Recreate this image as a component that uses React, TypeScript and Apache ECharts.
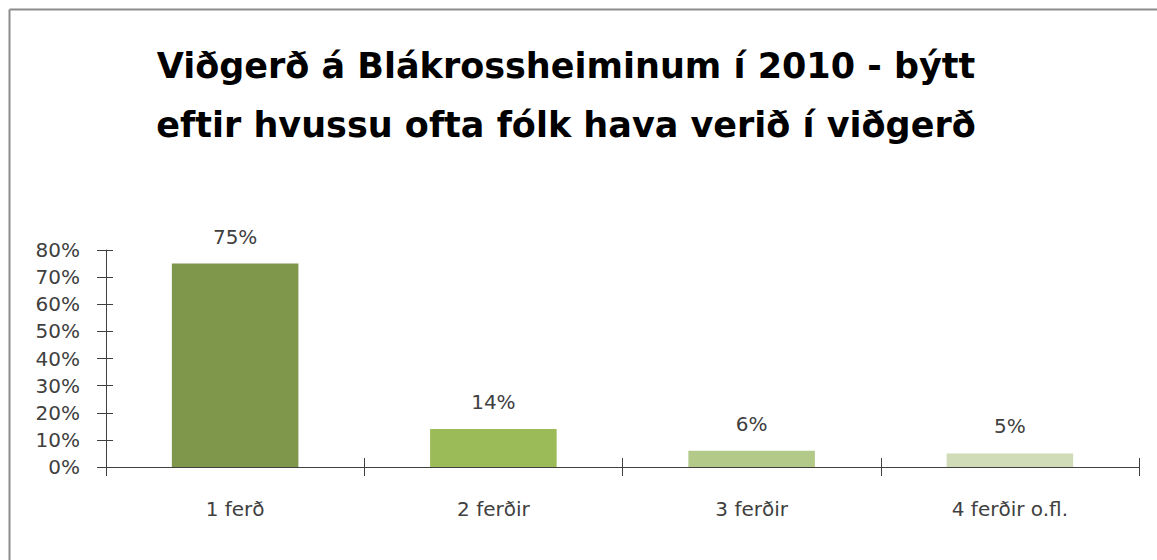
import React, { useEffect, useRef } from "react";
import * as echarts from "echarts";

const categories = ["1 ferð", "2 ferðir", "3 ferðir", "4 ferðir o.fl."];
const values = [75, 14, 6, 5];
const barColors = ["#7F974A", "#9BBB59", "#B3C98A", "#CFDCB7"];
const titleLines = ["Viðgerð á Blákrossheiminum í 2010 - býtt", "eftir hvussu ofta fólk hava verið í viðgerð"];

export default function App() {
  const ref = useRef<HTMLDivElement>(null);
  useEffect(() => {
    const chart = echarts.init(ref.current!, null, { renderer: "svg" });
    const font = "'DejaVu Sans', sans-serif";
    const yCommon = {
      type: "value" as const,
      min: 0,
      max: 80,
      interval: 10,
      splitLine: { show: false },
    };
    chart.setOption({
      animation: false,
      backgroundColor: "#ffffff",
      title: {
        text: titleLines.join("\n"),
        left: 561,
        top: 31,
        textAlign: "center",
        textStyle: {
          fontFamily: font,
          fontWeight: "bold",
          fontSize: 35,
          lineHeight: 59,
          color: "#000000",
        },
      },
      graphic: [
        { type: "line", shape: { x1: 9.5, y1: 9.5, x2: 1157, y2: 9.5 }, style: { stroke: "#8c8c8c", lineWidth: 2 } },
        { type: "line", shape: { x1: 9.5, y1: 9.5, x2: 9.5, y2: 560 }, style: { stroke: "#8c8c8c", lineWidth: 2 } },
      ],
      grid: { left: 106, right: 18, top: 250, bottom: 93, containLabel: false },
      xAxis: [
        {
          type: "category",
          data: categories,
          axisLine: { lineStyle: { color: "#404040", width: 1 } },
          axisTick: { show: true, length: 9, lineStyle: { color: "#404040" } },
          axisLabel: { fontFamily: font, fontSize: 20, color: "#404040", margin: 32 },
        },
        {
          type: "category",
          data: categories,
          position: "bottom",
          axisLine: { show: false },
          axisTick: { show: true, inside: true, length: 9, lineStyle: { color: "#404040" } },
          axisLabel: { show: false },
        },
      ],
      yAxis: [
        {
          ...yCommon,
          axisLine: { show: true, lineStyle: { color: "#404040" } },
          axisTick: { show: true, length: 9, lineStyle: { color: "#404040" } },
          axisLabel: {
            fontFamily: font,
            fontSize: 20,
            color: "#404040",
            margin: 26,
            formatter: (v: number) => v + "%",
          },
        },
        {
          ...yCommon,
          position: "left",
          axisLine: { show: false },
          axisTick: { show: true, inside: true, length: 7, lineStyle: { color: "#404040" } },
          axisLabel: { show: false },
        },
      ],
      series: [
        {
          type: "bar",
          xAxisIndex: 0,
          yAxisIndex: 0,
          barWidth: "49%",
          data: values.map((v, i) => ({ value: v, itemStyle: { color: barColors[i] } })),
          label: {
            show: true,
            position: "top",
            distance: 17,
            fontFamily: font,
            fontSize: 20,
            color: "#404040",
            formatter: (p: any) => p.value + "%",
          },
        },
      ],
    });
    return () => chart.dispose();
  }, []);
  return <div ref={ref} style={{ width: 1157, height: 560, position: "absolute", left: 0, top: 0 }} />;
}
